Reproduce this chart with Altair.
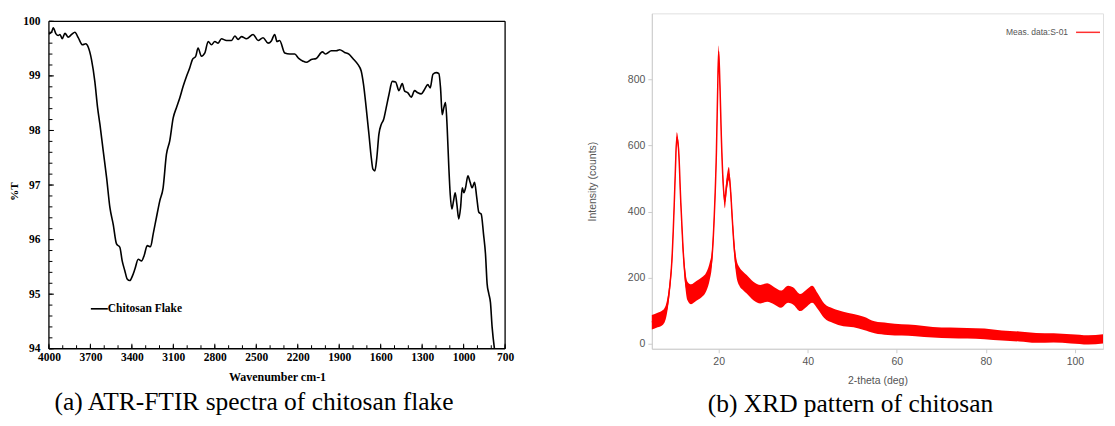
import altair as alt
import pandas as pd

# ---------------- (a) ATR-FTIR data ----------------
ftir_wavenumber = [4000, 3981, 3969, 3949, 3933, 3920, 3904, 3884, 3860, 3836, 3812, 3788, 3757,
                   3733, 3716, 3692, 3668, 3648, 3631, 3607, 3583, 3559, 3535, 3511, 3487, 3470,
                   3451, 3434, 3415, 3395, 3378, 3354, 3330, 3311, 3289, 3265, 3246, 3222, 3198,
                   3174, 3150, 3126, 3101, 3077, 3053, 3029, 3005, 2981, 2962, 2938, 2921, 2897,
                   2872, 2848, 2824, 2800, 2776, 2752, 2716, 2679, 2655, 2631, 2607, 2571, 2523,
                   2487, 2451, 2415, 2391, 2367, 2350, 2331, 2294, 2258, 2222, 2193, 2162, 2138,
                   2102, 2066, 2022, 1998, 1957, 1921, 1897, 1861, 1830, 1801, 1765, 1741, 1724,
                   1705, 1685, 1668, 1656, 1642, 1628, 1613, 1596, 1579, 1560, 1540, 1516, 1492,
                   1468, 1444, 1427, 1403, 1379, 1355, 1331, 1307, 1283, 1259, 1242, 1222, 1198,
                   1179, 1167, 1155, 1143, 1131, 1119, 1107, 1097, 1085, 1073, 1061, 1049, 1035,
                   1022, 1010, 998, 986, 969, 953, 938, 921, 905, 890, 873, 856, 842, 830, 818,
                   806, 794, 777]
ftir_transmittance = [99.77, 99.80, 99.88, 99.77, 99.74, 99.76, 99.68, 99.78, 99.71, 99.76, 99.80,
                      99.70, 99.57, 99.59, 99.53, 99.30, 98.90, 98.42, 98.11, 97.62, 97.14, 96.59,
                      96.28, 95.92, 95.86, 95.61, 95.43, 95.28, 95.25, 95.34, 95.46, 95.64, 95.61,
                      95.71, 95.89, 95.87, 96.10, 96.41, 96.71, 96.95, 97.56, 97.81, 98.23, 98.42,
                      98.60, 98.81, 98.99, 99.15, 99.30, 99.36, 99.51, 99.36, 99.42, 99.63, 99.57,
                      99.63, 99.60, 99.68, 99.65, 99.65, 99.73, 99.67, 99.72, 99.68, 99.76, 99.65,
                      99.70, 99.60, 99.64, 99.76, 99.63, 99.65, 99.42, 99.40, 99.40, 99.32, 99.27,
                      99.25, 99.30, 99.32, 99.44, 99.40, 99.46, 99.46, 99.48, 99.43, 99.40, 99.32,
                      99.21, 99.09, 98.84, 98.42, 97.93, 97.50, 97.29, 97.26, 97.50, 97.93, 98.11,
                      98.20, 98.42, 98.66, 98.90, 98.89, 98.73, 98.86, 98.72, 98.69, 98.61, 98.73,
                      98.69, 98.67, 98.75, 98.84, 98.78, 99.03, 99.06, 99.04, 98.78, 98.29, 98.42,
                      98.51, 98.05, 97.32, 96.83, 96.56, 96.71, 96.86, 96.65, 96.38, 96.59, 96.95,
                      96.86, 96.95, 97.17, 97.05, 96.95, 97.05, 96.77, 96.50, 96.47, 96.10, 95.74,
                      95.19, 95.01, 94.85, 94.40, 94.00]
ftir_series = ["Chitosan Flake"]
ftir_x_ticks = [4000, 3700, 3400, 3100, 2800, 2500, 2200, 1900, 1600, 1300, 1000, 700]
ftir_x_minor = [4000 - 100 * i for i in range(34)]
ftir_y_ticks = [94, 95, 96, 97, 98, 99, 100]
ftir_y_minor = [round(94 + 0.2 * i, 1) for i in range(31)]

# ---------------- (b) XRD data ----------------
xrd_theta = [5.0, 6.3, 7.5, 8.3, 9.0, 9.5, 10.0, 10.3, 10.6, 11.0, 11.5, 12.0, 12.5, 13.0, 13.8,
             15.0, 16.1, 17.3, 18.0, 18.5, 19.0, 19.5, 19.8, 20.0, 20.3, 20.6, 21.0, 21.4, 21.7,
             22.0, 22.3, 22.7, 23.1, 23.5, 24.0, 24.6, 25.5, 26.3, 27.8, 29.4, 30.9, 32.5, 34.0,
             35.6, 36.7, 38.3, 39.9, 41.0, 42.2, 43.7, 45.7, 48.0, 50.3, 52.6, 55.0, 58.0, 61.1,
             64.2, 68.1, 72.0, 75.8, 79.7, 83.6, 87.5, 91.3, 95.2, 99.1, 103.0, 106.3]
xrd_counts = [65, 72, 80, 105, 170, 250, 410, 530, 625, 590, 430, 290, 200, 160, 150, 160, 170,
              190, 220, 260, 380, 580, 780, 885, 780, 630, 490, 430, 470, 500, 515, 460, 370, 290,
              230, 205, 190, 180, 160, 150, 155, 145, 135, 150, 145, 125, 140, 150, 130, 100, 85,
              75, 70, 62, 50, 45, 42, 40, 35, 33, 32, 30, 25, 22, 18, 18, 15, 12, 15]
xrd_noise = [22, 22, 22, 20, 18, 16, 15, 15, 15, 15, 15, 18, 24, 28, 30, 30, 30, 28, 26, 22, 18,
             16, 16, 18, 16, 16, 18, 20, 22, 22, 20, 18, 18, 22, 26, 28, 28, 28, 28, 28, 28, 26,
             26, 26, 26, 26, 26, 26, 24, 22, 22, 22, 20, 20, 18, 18, 17, 17, 16, 16, 16, 16, 15,
             15, 15, 14, 14, 14, 14]
xrd_series = ["Meas. data:S-01"]
xrd_x_ticks = [20, 40, 60, 80, 100]
xrd_y_ticks = [0, 200, 400, 600, 800]

SERIF = "Liberation Serif"
SANS = "Liberation Sans"

# ================= left panel =================
LW, LH = 457, 336
ftir_df = pd.DataFrame({"wn": ftir_wavenumber, "T": ftir_transmittance})
xs = alt.Scale(domain=[700, 4000], reverse=True, nice=False, zero=False)
ys = alt.Scale(domain=[94, 100.146], nice=False, zero=False)
x_axis_a = alt.Axis(values=ftir_x_ticks, format="d", title="Wavenumber cm-1",
                    ticks=False, tickSize=0, domain=False, grid=False, labelPadding=3,
                    labelFlush=False, labelOverlap=False,
                    labelFont=SERIF, labelFontWeight="bold", labelFontSize=11.5,
                    labelColor="black", titleFont=SERIF, titleFontWeight="bold",
                    titleFontSize=12, titleColor="black", titlePadding=8)
y_axis_a = alt.Axis(values=ftir_y_ticks, format="d", title="%T",
                    ticks=False, tickSize=0, domain=False, grid=False, labelPadding=9,
                    labelFlush=False, labelOverlap=False,
                    labelFont=SERIF, labelFontWeight="bold", labelFontSize=11.5,
                    labelColor="black", titleFont=SERIF, titleFontWeight="bold",
                    titleFontSize=11, titleColor="black", titlePadding=3, titleY=178)


def fx(field):
    return alt.X(field, scale=xs, axis=x_axis_a)


def fy(field):
    return alt.Y(field, scale=ys, axis=y_axis_a)


ftir_line = alt.Chart(ftir_df).mark_line(color="black", strokeWidth=1.6, interpolate="monotone").encode(
    x=fx("wn:Q"), y=fy("T:Q"))

frame_df = pd.DataFrame({
    "x": [4000, 4000, 4000, 700], "x2": [700, 700, 4000, 700],
    "y": [100, 94, 94, 94], "y2": [100, 94, 100, 100]})
ftir_frame = alt.Chart(frame_df).mark_rule(color="black", strokeWidth=1.3).encode(
    x=fx("x:Q"), x2="x2:Q", y=fy("y:Q"), y2="y2:Q")

ftir_ymaj = alt.Chart(pd.DataFrame({"v": ftir_y_ticks})).mark_rule(color="black", strokeWidth=1).encode(
    y=fy("v:Q"), x=alt.value(0), x2=alt.value(5))
ftir_ymin = alt.Chart(pd.DataFrame({"v": ftir_y_minor})).mark_rule(color="black", strokeWidth=1).encode(
    y=fy("v:Q"), x=alt.value(0), x2=alt.value(3.5))
ftir_xmaj = alt.Chart(pd.DataFrame({"v": ftir_x_ticks})).mark_rule(color="black", strokeWidth=1).encode(
    x=fx("v:Q"), y=alt.value(LH), y2=alt.value(LH - 5))
ftir_xmin = alt.Chart(pd.DataFrame({"v": ftir_x_minor})).mark_rule(color="black", strokeWidth=1).encode(
    x=fx("v:Q"), y=alt.value(LH), y2=alt.value(LH - 3.5))

leg_a = pd.DataFrame({"label": ftir_series})
ftir_leg_line = alt.Chart(leg_a).mark_rule(color="black", strokeWidth=1.6).encode(
    x=alt.value(42), x2=alt.value(59), y=alt.value(296))
ftir_leg_text = alt.Chart(leg_a).mark_text(
    font=SERIF, fontWeight="bold", fontSize=11.5, align="left", baseline="middle", color="black"
).encode(text="label:N", x=alt.value(59), y=alt.value(296))

left = alt.layer(ftir_frame, ftir_ymaj, ftir_ymin, ftir_xmaj, ftir_xmin, ftir_line,
                 ftir_leg_line, ftir_leg_text).properties(
    width=LW, height=LH,
    view=alt.ViewBackground(stroke="transparent"),
    title=alt.TitleParams("(a) ATR-FTIR spectra of chitosan flake", orient="bottom", anchor="middle",
                          font=SERIF, fontSize=25.5, fontWeight="normal", color="black",
                          offset=8, dx=-23),
)

# ================= right panel =================
RW, RH = 452, 336
xrd_df = pd.DataFrame({"theta": xrd_theta, "counts": xrd_counts, "noise": xrd_noise})
xrd_df["lo"] = xrd_df["counts"] - xrd_df["noise"]
xrd_df["hi"] = xrd_df["counts"] + xrd_df["noise"]
txs = alt.Scale(domain=[5, 106.3], nice=False, zero=False)
tys = alt.Scale(domain=[-15, 1000], nice=False, zero=False)
GRAY = "#555555"
x_axis_b = alt.Axis(values=xrd_x_ticks, title="2-theta (deg)", grid=False,
                    domainColor="#cccccc", tickColor="#cccccc", tickSize=4,
                    labelFont=SANS, labelFontSize=10.5, labelColor=GRAY, labelPadding=4,
                    titleFont=SANS, titleFontSize=10.5, titleFontWeight="normal",
                    titleColor=GRAY, titlePadding=8)
y_axis_b = alt.Axis(values=xrd_y_ticks, title="Intensity (counts)", grid=False,
                    domainColor="#cccccc", tickColor="#cccccc", tickSize=4,
                    labelFont=SANS, labelFontSize=10.5, labelColor=GRAY, labelPadding=3,
                    titleFont=SANS, titleFontSize=10.5, titleFontWeight="normal",
                    titleColor=GRAY, titlePadding=30)

xrd_band = alt.Chart(xrd_df).mark_area(color="#ff0000", opacity=1, interpolate="monotone").encode(
    x=alt.X("theta:Q", scale=txs, axis=x_axis_b),
    y=alt.Y("lo:Q", scale=tys, axis=y_axis_b),
    y2="hi:Q",
)
xrd_line = alt.Chart(xrd_df).mark_line(color="#ff0000", strokeWidth=1.5, interpolate="monotone").encode(
    x=alt.X("theta:Q", scale=txs, axis=x_axis_b), y=alt.Y("counts:Q", scale=tys, axis=y_axis_b))

leg_b = pd.DataFrame({"label": xrd_series})
xrd_leg_text = alt.Chart(leg_b).mark_text(
    font=SANS, fontSize=8.5, align="right", baseline="middle", color=GRAY
).encode(text="label:N", x=alt.value(417), y=alt.value(19))
xrd_leg_line = alt.Chart(leg_b).mark_rule(color="#ff3030", strokeWidth=1.5).encode(
    x=alt.value(425), x2=alt.value(449), y=alt.value(19))

right = alt.layer(xrd_band, xrd_line, xrd_leg_text, xrd_leg_line).properties(
    width=RW, height=RH,
    view=alt.ViewBackground(stroke="#e0e0e0"),
    title=alt.TitleParams("(b) XRD pattern of chitosan", orient="bottom", anchor="middle",
                          font=SERIF, fontSize=25.5, fontWeight="normal", color="black",
                          offset=6, dx=-27),
)

chart = alt.hconcat(left, right, spacing=147, bounds="flush").properties(
    padding={"left": 0, "top": 4, "right": 0, "bottom": 0},
    background="white",
)

chart.save("out.html", embed_options={"renderer": "svg", "actions": False})
